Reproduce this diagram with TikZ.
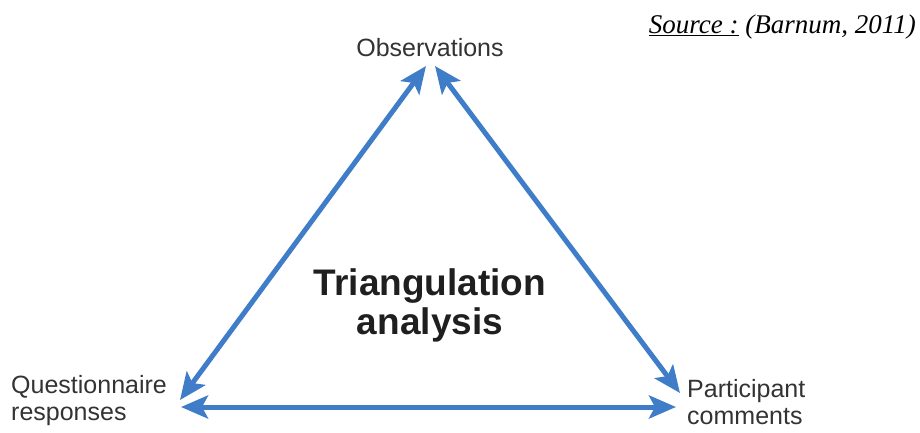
\documentclass[tikz,border=0pt]{standalone}
\usepackage{fontspec}
\setmainfont{Liberation Sans}
\newfontfamily\serifsrc{Liberation Serif}
\usetikzlibrary{arrows.meta}
\definecolor{arrowblue}{HTML}{3F7DC8}
\definecolor{txtgray}{HTML}{333333}
\tikzset{
  conn/.style={draw=arrowblue,line width=5pt,{Stealth[length=27pt,width=23pt,inset=6pt]}-{Stealth[length=27pt,width=23pt,inset=6pt]}},
  lbl/.style={text=txtgray,font=\fontsize{25}{27}\selectfont,inner sep=0pt},
}
\begin{document}
\begin{tikzpicture}[x=1pt,y=-1pt]
\useasboundingbox (0,0) rectangle (920,432);
\coordinate (topL) at (426,66);
\coordinate (topR) at (435,66);
\coordinate (botL) at (180,400);
\coordinate (botR) at (680,393);
\coordinate (bL) at (181,407);
\coordinate (bR) at (676,407);
\draw[conn] (topL) -- (botL);
\draw[conn] (topR) -- (botR);
\draw[conn] (bL) -- (bR);
\node[lbl] (obs) at (430,48) {Observations};
\node[lbl,anchor=west,align=left] (qr) at (11,401) {Questionnaire\\responses};
\node[lbl,anchor=west,align=left] (pc) at (687,402) {Participant\\comments};
\node[text=black!88,font=\fontsize{37}{39}\selectfont\bfseries,align=center,inner sep=0pt] (tri) at (430,305) {Triangulation\\analysis};
\node[anchor=base east,inner sep=0pt,font=\serifsrc\itshape\fontsize{27}{30}\selectfont] (src) at (916,33) {\underline{Source :} (Barnum, 2011)};
\end{tikzpicture}
\end{document}
